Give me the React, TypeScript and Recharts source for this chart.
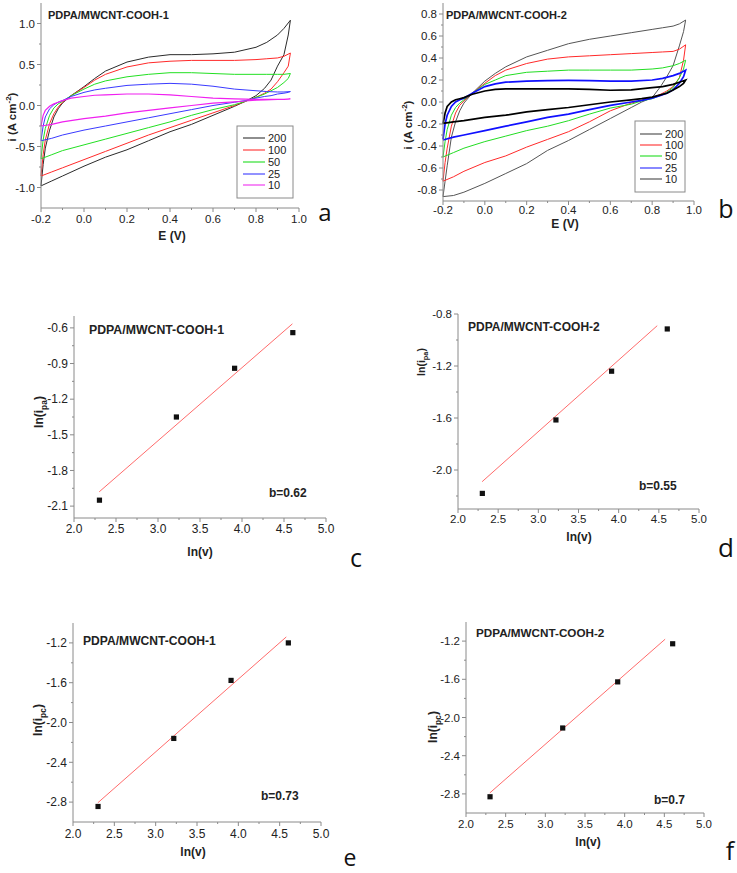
import React from "react";
import { ComposedChart, Line, LineChart, Scatter, XAxis, YAxis } from "recharts";

const FONT = "'Liberation Sans', Arial, Helvetica, sans-serif";
const FRAME = "#8a8a8a";
const INK = "#222";

// potential grid of the CV loops (forward sweep, then back)
const sweepUp = [-0.2, -0.19, -0.18, -0.16, -0.14, -0.12, -0.1, -0.06, 0, 0.05, 0.1, 0.2, 0.3, 0.4, 0.5, 0.6, 0.7, 0.8, 0.85, 0.9, 0.93, 0.96];
const sweepDown = [0.96, 0.95, 0.93, 0.9, 0.87, 0.84, 0.8, 0.75, 0.7, 0.6, 0.5, 0.4, 0.3, 0.2, 0.1, 0, -0.1, -0.15, -0.2];

const scanRates = ["200", "100", "50", "25", "10"];

// panel a : PDPA/MWCNT-COOH-1
const a200Up = [-0.98, -0.72, -0.52, -0.3, -0.14, -0.04, 0.03, 0.12, 0.23, 0.33, 0.42, 0.53, 0.59, 0.62, 0.62, 0.63, 0.65, 0.71, 0.77, 0.86, 0.94, 1.04];
const a200Down = [1.04, 0.86, 0.62, 0.48, 0.31, 0.21, 0.12, 0.05, -0.01, -0.12, -0.23, -0.32, -0.43, -0.54, -0.63, -0.74, -0.86, -0.92, -0.98];
const a100Up = [-0.86, -0.6, -0.42, -0.22, -0.1, -0.02, 0.04, 0.12, 0.22, 0.31, 0.38, 0.47, 0.52, 0.54, 0.55, 0.55, 0.55, 0.56, 0.57, 0.58, 0.6, 0.64];
const a100Down = [0.64, 0.48, 0.4, 0.29, 0.2, 0.15, 0.1, 0.05, 0.0, -0.09, -0.18, -0.27, -0.36, -0.46, -0.56, -0.66, -0.76, -0.81, -0.86];
const a50Up = [-0.65, -0.42, -0.28, -0.12, -0.03, 0.02, 0.05, 0.12, 0.2, 0.26, 0.3, 0.35, 0.38, 0.4, 0.4, 0.39, 0.38, 0.38, 0.38, 0.38, 0.38, 0.39];
const a50Down = [0.39, 0.33, 0.28, 0.22, 0.18, 0.14, 0.1, 0.05, 0.01, -0.05, -0.12, -0.2, -0.27, -0.34, -0.41, -0.48, -0.55, -0.6, -0.65];
const a25Up = [-0.43, -0.25, -0.14, -0.04, 0.01, 0.04, 0.06, 0.11, 0.16, 0.19, 0.21, 0.245, 0.26, 0.27, 0.26, 0.235, 0.2, 0.18, 0.17, 0.165, 0.165, 0.17];
const a25Down = [0.17, 0.16, 0.15, 0.14, 0.12, 0.11, 0.09, 0.06, 0.04, 0.0, -0.05, -0.1, -0.15, -0.2, -0.25, -0.3, -0.36, -0.4, -0.43];
const a10Up = [-0.25, -0.12, -0.06, -0.01, 0.02, 0.04, 0.06, 0.09, 0.11, 0.125, 0.13, 0.14, 0.14, 0.13, 0.11, 0.09, 0.08, 0.075, 0.075, 0.075, 0.075, 0.08];
const a10Down = [0.08, 0.078, 0.075, 0.073, 0.07, 0.068, 0.065, 0.055, 0.045, 0.03, 0.0, -0.03, -0.06, -0.09, -0.13, -0.16, -0.2, -0.23, -0.25];

// panel b : PDPA/MWCNT-COOH-2
const b200Up = [-0.86, -0.72, -0.58, -0.32, -0.18, -0.08, -0.01, 0.08, 0.19, 0.26, 0.32, 0.41, 0.47, 0.53, 0.57, 0.6, 0.63, 0.66, 0.675, 0.69, 0.71, 0.745];
const b200Down = [0.745, 0.64, 0.51, 0.33, 0.23, 0.14, 0.04, 0.0, -0.05, -0.15, -0.25, -0.35, -0.44, -0.56, -0.65, -0.74, -0.82, -0.85, -0.86];
const b100Up = [-0.72, -0.55, -0.42, -0.22, -0.1, -0.03, 0.01, 0.08, 0.17, 0.24, 0.29, 0.35, 0.39, 0.41, 0.42, 0.43, 0.44, 0.45, 0.455, 0.46, 0.48, 0.52];
const b100Down = [0.52, 0.38, 0.22, 0.14, 0.1, 0.07, 0.04, 0.015, -0.01, -0.08, -0.18, -0.27, -0.34, -0.41, -0.49, -0.55, -0.63, -0.68, -0.72];
const b50Up = [-0.5, -0.36, -0.25, -0.12, -0.05, -0.01, 0.02, 0.08, 0.16, 0.2, 0.24, 0.27, 0.28, 0.29, 0.29, 0.29, 0.29, 0.3, 0.31, 0.33, 0.35, 0.38];
const b50Down = [0.38, 0.3, 0.22, 0.13, 0.09, 0.06, 0.03, 0.01, -0.02, -0.055, -0.11, -0.17, -0.22, -0.26, -0.31, -0.36, -0.42, -0.46, -0.5];
const b25Up = [-0.34, -0.2, -0.12, -0.04, 0.0, 0.02, 0.035, 0.08, 0.14, 0.165, 0.18, 0.19, 0.195, 0.197, 0.195, 0.19, 0.19, 0.2, 0.215, 0.24, 0.26, 0.29];
const b25Down = [0.29, 0.23, 0.17, 0.11, 0.08, 0.06, 0.035, 0.015, 0.0, -0.03, -0.07, -0.11, -0.14, -0.18, -0.22, -0.26, -0.3, -0.32, -0.345];
const b10Up = [-0.2, -0.1, -0.04, 0.0, 0.02, 0.03, 0.04, 0.07, 0.1, 0.115, 0.12, 0.12, 0.12, 0.12, 0.115, 0.107, 0.11, 0.13, 0.14, 0.16, 0.18, 0.2];
const b10Down = [0.2, 0.17, 0.14, 0.11, 0.08, 0.065, 0.045, 0.03, 0.02, 0.0, -0.025, -0.05, -0.07, -0.09, -0.12, -0.14, -0.17, -0.18, -0.195];

// ln(v) vs ln(i) panels
const lnV = [2.303, 3.219, 3.912, 4.605];
const lnIpa1 = [-2.05, -1.35, -0.94, -0.64];
const lnIpa2 = [-2.18, -1.615, -1.24, -0.915];
const lnIpc1 = [-2.844, -2.16, -1.577, -1.2];
const lnIpc2 = [-2.83, -2.11, -1.627, -1.228];
const fitPa1X = [2.3, 4.6];
const fitPa1Y = [-1.98, -0.566];
const fitPa2X = [2.3, 4.48];
const fitPa2Y = [-2.09, -0.89];
const fitPc1X = [2.3, 4.58];
const fitPc1Y = [-2.807, -1.14];
const fitPc2X = [2.3, 4.51];
const fitPc2Y = [-2.79, -1.18];

// axis ticks (all ticks, then the labelled ones)
const eTicks = [-0.2, -0.1, 0, 0.1, 0.2, 0.3, 0.4, 0.5, 0.6, 0.7, 0.8, 0.9, 1.0];
const eMajor = [-0.2, 0, 0.2, 0.4, 0.6, 0.8, 1.0];
const iTicksA = [-1.0, -0.75, -0.5, -0.25, 0, 0.25, 0.5, 0.75, 1.0];
const iMajorA = [-1.0, -0.5, 0, 0.5, 1.0];
const iTicksB = [-0.8, -0.7, -0.6, -0.5, -0.4, -0.3, -0.2, -0.1, 0, 0.1, 0.2, 0.3, 0.4, 0.5, 0.6, 0.7, 0.8];
const iMajorB = [-0.8, -0.6, -0.4, -0.2, 0, 0.2, 0.4, 0.6, 0.8];
const vTicks = [2.0, 2.25, 2.5, 2.75, 3.0, 3.25, 3.5, 3.75, 4.0, 4.25, 4.5, 4.75, 5.0];
const vMajor = [2.0, 2.5, 3.0, 3.5, 4.0, 4.5, 5.0];
const paTicksC = [-2.1, -1.95, -1.8, -1.65, -1.5, -1.35, -1.2, -1.05, -0.9, -0.75, -0.6];
const paMajorC = [-2.1, -1.8, -1.5, -1.2, -0.9, -0.6];
const paTicksD = [-2.2, -2.0, -1.8, -1.6, -1.4, -1.2, -1.0, -0.8];
const paMajorD = [-2.0, -1.6, -1.2, -0.8];
const pcTicks = [-2.8, -2.6, -2.4, -2.2, -2.0, -1.8, -1.6, -1.4, -1.2];
const pcMajor = [-2.8, -2.4, -2.0, -1.6, -1.2];

const loop = (up: number[], down: number[]) => [
  ...sweepUp.map((e, k) => ({ e, i: up[k] })),
  ...sweepDown.map((e, k) => ({ e, i: down[k] }))
];

const pairs = (xs: number[], ys: number[]) => xs.map((x, k) => ({ x, y: ys[k] }));

const cvSeriesA = [
  { rate: scanRates[0], data: loop(a200Up, a200Down), color: "#2b2b2b", w: 1, legend: "#444" },
  { rate: scanRates[1], data: loop(a100Up, a100Down), color: "#ff2a2a", w: 1, legend: "#ff4040" },
  { rate: scanRates[2], data: loop(a50Up, a50Down), color: "#22e022", w: 1, legend: "#33e033" },
  { rate: scanRates[3], data: loop(a25Up, a25Down), color: "#3a3aff", w: 1, legend: "#4a4aff" },
  { rate: scanRates[4], data: loop(a10Up, a10Down), color: "#f020f0", w: 1.2, legend: "#f040f0" }
];

const cvSeriesB = [
  { rate: scanRates[0], data: loop(b200Up, b200Down), color: "#555", w: 1, legend: "#555" },
  { rate: scanRates[1], data: loop(b100Up, b100Down), color: "#ff2a2a", w: 1, legend: "#ff4040" },
  { rate: scanRates[2], data: loop(b50Up, b50Down), color: "#22dd22", w: 1, legend: "#33e033" },
  { rate: scanRates[3], data: loop(b25Up, b25Down), color: "#1010ff", w: 1.7, legend: "#3a3aff" },
  { rate: scanRates[4], data: loop(b10Up, b10Down), color: "#000", w: 1.7, legend: "#555" }
];

function makeTick(side: "bottom" | "left", majors: number[], fontSize: number, gap: number) {
  return function Tick(props: any) {
    const { x, y, payload } = props;
    const v = Number(payload.value);
    const major = majors.some((m) => Math.abs(m - v) < 1e-6);
    const len = major ? 4 : 2;
    if (side === "bottom") {
      return (
        <g>
          <line x1={x} x2={x} y1={y} y2={y + len} stroke={FRAME} />
          {major && (
            <text x={x} y={y + gap} textAnchor="middle" fontSize={fontSize} fill={INK} fontFamily={FONT}>
              {v.toFixed(1)}
            </text>
          )}
        </g>
      );
    }
    return (
      <g>
        <line x1={x - len} x2={x} y1={y} y2={y} stroke={FRAME} />
        {major && (
          <text x={x - 6} y={y + fontSize * 0.36} textAnchor="end" fontSize={fontSize} fill={INK} fontFamily={FONT}>
            {v.toFixed(1)}
          </text>
        )}
      </g>
    );
  };
}

type Margin = { top: number; right: number; left: number; bottom: number };

function CvChart(props: {
  left: number; top: number; width: number; height: number; margin: Margin;
  yWidth: number; xHeight: number; yDomain: number[]; yTicks: number[]; yMajor: number[];
  series: typeof cvSeriesA; fontSize: number; gap: number;
}) {
  const { left, top, width, height, margin, yWidth, xHeight, yDomain, yTicks, yMajor, series, fontSize, gap } = props;
  return (
    <div style={{ position: "absolute", left, top }}>
      <LineChart width={width} height={height} margin={margin}>
        <XAxis dataKey="e" type="number" domain={[-0.2, 1.0]} ticks={eTicks} interval={0} height={xHeight}
          stroke={FRAME} tickLine={false} tickSize={0} tickMargin={0} tick={makeTick("bottom", eMajor, fontSize, gap)} />
        <XAxis xAxisId="top" orientation="top" type="number" domain={[-0.2, 1.0]} height={0} tick={false} tickLine={false} stroke={FRAME} />
        <YAxis type="number" domain={yDomain} ticks={yTicks} interval={0} width={yWidth}
          stroke={FRAME} tickLine={false} tickSize={0} tickMargin={0} tick={makeTick("left", yMajor, fontSize, gap)} />
        <YAxis yAxisId="right" orientation="right" type="number" domain={yDomain} width={0} tick={false} tickLine={false} stroke={FRAME} />
        {series.map((s) => (
          <Line key={s.rate} data={s.data} dataKey="i" type="linear" stroke={s.color} strokeWidth={s.w}
            dot={false} activeDot={false} isAnimationActive={false} />
        ))}
      </LineChart>
    </div>
  );
}

function FitChart(props: {
  left: number; top: number; width: number; height: number; margin: Margin;
  yWidth: number; xHeight: number; yDomain: number[]; yTicks: number[]; yMajor: number[];
  points: { x: number; y: number }[]; fit: { x: number; y: number }[]; fontSize: number; gap: number;
}) {
  const { left, top, width, height, margin, yWidth, xHeight, yDomain, yTicks, yMajor, points, fit, fontSize, gap } = props;
  return (
    <div style={{ position: "absolute", left, top }}>
      <ComposedChart width={width} height={height} margin={margin}>
        <XAxis dataKey="x" type="number" domain={[2, 5]} ticks={vTicks} interval={0} height={xHeight}
          stroke={FRAME} tickLine={false} tickSize={0} tickMargin={0} tick={makeTick("bottom", vMajor, fontSize, gap)} />
        <XAxis xAxisId="top" orientation="top" type="number" domain={[2, 5]} height={0} tick={false} tickLine={false} stroke={FRAME} />
        <YAxis type="number" domain={yDomain} ticks={yTicks} interval={0} width={yWidth}
          stroke={FRAME} tickLine={false} tickSize={0} tickMargin={0} tick={makeTick("left", yMajor, fontSize, gap)} />
        <YAxis yAxisId="right" orientation="right" type="number" domain={yDomain} width={0} tick={false} tickLine={false} stroke={FRAME} />
        <Line data={fit} dataKey="y" type="linear" stroke="#ff6b6b" strokeWidth={1} dot={false} activeDot={false} isAnimationActive={false} />
        <Scatter data={points} dataKey="y" isAnimationActive={false}
          shape={(p: any) => <rect x={p.cx - 2.6} y={p.cy - 2.6} width={5.2} height={5.2} fill="#111" />} />
      </ComposedChart>
    </div>
  );
}

function Legend({ x, y, w, h, rowY, lineX, series }: { x: number; y: number; w: number; h: number; rowY: number[]; lineX: number[]; series: typeof cvSeriesA }) {
  return (
    <g>
      <rect x={x} y={y} width={w} height={h} fill="#fff" stroke={FRAME} strokeWidth={1} />
      {series.map((s, k) => (
        <g key={s.rate}>
          <line x1={lineX[0]} x2={lineX[1]} y1={rowY[k]} y2={rowY[k]} stroke={s.legend} strokeWidth={1.2} />
          <text x={lineX[1] + 3} y={rowY[k] + 4} fontSize={11} fill={INK} fontFamily={FONT}>{s.rate}</text>
        </g>
      ))}
    </g>
  );
}

function RotLabel({ x, y, main, sub, sup, size }: { x: number; y: number; main: string; sub?: string; sup?: string; size: number }) {
  return (
    <text transform={`translate(${x},${y}) rotate(-90)`} textAnchor="middle" fontSize={size} fontWeight="bold" fill={INK} fontFamily={FONT}>
      {main}
      {sup && <tspan dy={-size * 0.4} fontSize={size * 0.7}>{sup}</tspan>}
      {sup && <tspan dy={size * 0.4}>)</tspan>}
      {sub && <tspan dy={size * 0.3} fontSize={size * 0.7}>{sub}</tspan>}
      {sub && <tspan dy={-size * 0.3}>)</tspan>}
    </text>
  );
}

export default function App() {
  const bold = { fontFamily: FONT, fontWeight: "bold" as const, fill: INK };
  const letter = { fontFamily: "'Open Sans', 'Liberation Sans', sans-serif", fill: "#111" };
  return (
    <div style={{ position: "absolute", left: 0, top: 0, width: 737, height: 873, background: "#fff", overflow: "hidden" }}>
      <CvChart left={0} top={0} width={330} height={250} margin={{ top: 3, right: 31, left: 0, bottom: 0 }}
        yWidth={41} xHeight={42} yDomain={[-1.25, 1.25]} yTicks={iTicksA} yMajor={iMajorA} series={cvSeriesA} fontSize={11.5} gap={14.5} />
      <CvChart left={370} top={0} width={340} height={240} margin={{ top: 3, right: 16, left: 0, bottom: 0 }}
        yWidth={73} xHeight={39} yDomain={[-0.9, 0.9]} yTicks={iTicksB} yMajor={iMajorB} series={cvSeriesB} fontSize={11.5} gap={13} />
      <FitChart left={0} top={300} width={345} height={250} margin={{ top: 16, right: 19, left: 0, bottom: 0 }}
        yWidth={74} xHeight={32} yDomain={[-2.2, -0.5]} yTicks={paTicksC} yMajor={paMajorC}
        points={pairs(lnV, lnIpa1)} fit={pairs(fitPa1X, fitPa1Y)} fontSize={12} gap={15} />
      <FitChart left={370} top={300} width={345} height={240} margin={{ top: 14, right: 16, left: 0, bottom: 0 }}
        yWidth={88} xHeight={31} yDomain={[-2.3, -0.8]} yTicks={paTicksD} yMajor={paMajorD}
        points={pairs(lnV, lnIpa2)} fit={pairs(fitPa2X, fitPa2Y)} fontSize={11.5} gap={14} />
      <FitChart left={0} top={600} width={340} height={250} margin={{ top: 23, right: 19, left: 0, bottom: 0 }}
        yWidth={73} xHeight={28} yDomain={[-3.0, -1.0]} yTicks={pcTicks} yMajor={pcMajor}
        points={pairs(lnV, lnIpc1)} fit={pairs(fitPc1X, fitPc1Y)} fontSize={12} gap={15.5} />
      <FitChart left={370} top={600} width={350} height={240} margin={{ top: 22, right: 16, left: 0, bottom: 0 }}
        yWidth={96} xHeight={27} yDomain={[-3.0, -1.0]} yTicks={pcTicks} yMajor={pcMajor}
        points={pairs(lnV, lnIpc2)} fit={pairs(fitPc2X, fitPc2Y)} fontSize={11.5} gap={15} />

      <svg width={737} height={873} style={{ position: "absolute", left: 0, top: 0, pointerEvents: "none" }}>
        {/* panel a */}
        <text x={48} y={19} fontSize={11} {...bold}>PDPA/MWCNT-COOH-1</text>
        <RotLabel x={16} y={117} main="i (A cm" sup="-2" size={11.5} />
        <text x={172} y={240} fontSize={12} textAnchor="middle" {...bold}>E (V)</text>
        <Legend x={237} y={126} w={56} h={72} rowY={[138, 150, 162, 174, 185]} lineX={[243, 265]} series={cvSeriesA} />
        <text x={325} y={221} fontSize={24} textAnchor="middle" {...letter}>a</text>

        {/* panel b */}
        <text x={446} y={19} fontSize={11} {...bold}>PDPA/MWCNT-COOH-2</text>
        <RotLabel x={412} y={125} main="i (A cm" sup="-2" size={11.5} />
        <text x={565} y={228} fontSize={12} textAnchor="middle" {...bold}>E (V)</text>
        <Legend x={635} y={121} w={50} h={71} rowY={[134, 145, 156, 168, 179]} lineX={[640, 662]} series={cvSeriesB} />
        <text x={726} y={218} fontSize={25} textAnchor="middle" {...letter}>b</text>

        {/* panel c */}
        <text x={89} y={334} fontSize={12.3} {...bold}>PDPA/MWCNT-COOH-1</text>
        <RotLabel x={43} y={412} main="ln(i" sub="pa" size={12} />
        <text x={200} y={556} fontSize={12} textAnchor="middle" {...bold}>ln(v)</text>
        <text x={269} y={497} fontSize={12} {...bold}>b=0.62</text>
        <text x={356} y={567} fontSize={25} textAnchor="middle" {...letter}>c</text>

        {/* panel d */}
        <text x={468} y={331} fontSize={12} {...bold}>PDPA/MWCNT-COOH-2</text>
        <RotLabel x={425} y={362} main="ln(i" sub="pa" size={10.5} />
        <text x={579} y={541} fontSize={12} textAnchor="middle" {...bold}>ln(v)</text>
        <text x={639} y={490} fontSize={12} {...bold}>b=0.55</text>
        <text x={726} y={557} fontSize={26} textAnchor="middle" {...letter}>d</text>

        {/* panel e */}
        <text x={83} y={645} fontSize={12.1} {...bold}>PDPA/MWCNT-COOH-1</text>
        <RotLabel x={42} y={720} main="ln(i" sub="pc" size={12} />
        <text x={193} y={856} fontSize={12} textAnchor="middle" {...bold}>ln(v)</text>
        <text x={261} y={800} fontSize={12} {...bold}>b=0.73</text>
        <text x={350} y={866} fontSize={23} textAnchor="middle" {...letter}>e</text>

        {/* panel f */}
        <text x={476} y={637} fontSize={11.7} {...bold}>PDPA/MWCNT-COOH-2</text>
        <RotLabel x={437} y={727} main="ln(i" sub="pc" size={12} />
        <text x={588} y={846} fontSize={12} textAnchor="middle" {...bold}>ln(v)</text>
        <text x={654} y={804} fontSize={12} {...bold}>b=0.7</text>
        <text x={730} y={860} fontSize={25} textAnchor="middle" {...letter}>f</text>
      </svg>
    </div>
  );
}
